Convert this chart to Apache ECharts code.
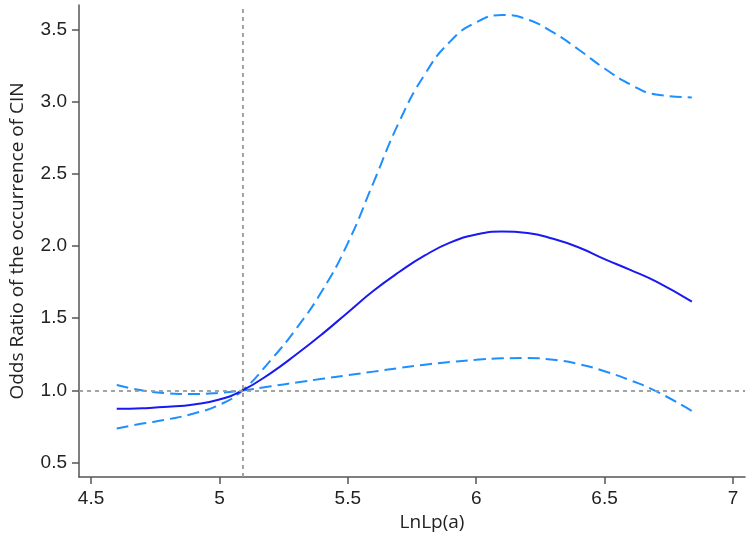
<!DOCTYPE html>
<html>
<head>
    <meta charset="UTF-8">
    <title>Odds Ratio of CIN</title>
    <script type="text/javascript" src="https://cdn.jsdelivr.net/npm/echarts@6/dist/echarts.min.js"></script>
    <style type="text/css">
        html, body { margin: 0; padding: 0; background: #fff; }
        #chart { width: 751px; height: 540px; }
    </style>
</head>
<body>
<div id="chart"></div>
<script type="text/javascript">
    // LnLp(a) grid and read-off curve values
    var xs    = [4.6, 4.7, 4.8, 4.9, 5.0, 5.09, 5.2, 5.3, 5.4, 5.5, 5.6, 5.7, 5.8, 5.9, 6.0, 6.1, 6.2, 6.3, 6.4, 6.5, 6.6, 6.7, 6.84];
    var fit   = [0.872, 0.877, 0.886, 0.903, 0.937, 1.0, 1.12, 1.25, 1.39, 1.54, 1.69, 1.82, 1.935, 2.025, 2.08, 2.10, 2.09, 2.05, 1.99, 1.91, 1.835, 1.755, 1.615];
    var upper = [0.736, 0.77, 0.80, 0.84, 0.90, 1.0, 1.21, 1.43, 1.69, 2.02, 2.44, 2.86, 3.19, 3.42, 3.55, 3.60, 3.57, 3.48, 3.36, 3.23, 3.12, 3.05, 3.03];
    var lower = [1.037, 1.00, 0.98, 0.975, 0.983, 1.0, 1.028, 1.055, 1.08, 1.105, 1.13, 1.155, 1.178, 1.197, 1.212, 1.222, 1.224, 1.212, 1.182, 1.133, 1.07, 0.995, 0.858];
    var xTicks = [4.5, 5, 5.5, 6, 6.5, 7];
    var yTicks = [0.5, 1.0, 1.5, 2.0, 2.5, 3.0, 3.5];
    var refX = 5.09;
    var refY = 1.0;

    function pairs(ys) {
        var out = [];
        for (var i = 0; i < xs.length; i++) {
            out.push([xs[i], ys[i]]);
        }
        return out;
    }

    var chart = echarts.init(document.getElementById('chart'));
    var axisColor = '#555';
    var ciStyle = { color: '#1e8fff', width: 2, type: [12, 6] };

    chart.setOption({
        animation: false,
        grid: { left: 76, right: 6, top: 5, bottom: 63 },
        xAxis: {
            type: 'value',
            min: 4.453,
            max: 7.047,
            name: 'LnLp(a)',
            nameLocation: 'middle',
            nameGap: 32,
            nameTextStyle: { fontFamily: 'Open Sans', fontSize: 19, color: '#222', padding: [0, 0, 0, 40] },
            splitLine: { show: false },
            axisLine: { lineStyle: { color: axisColor, width: 1.5 } },
            axisTick: { length: 7, customValues: xTicks, lineStyle: { color: axisColor, width: 1.5 } },
            axisLabel: {
                customValues: xTicks,
                margin: 12,
                fontFamily: 'Liberation Sans',
                fontSize: 19,
                color: '#222'
            }
        },
        yAxis: {
            type: 'value',
            min: 0.4,
            max: 3.67,
            name: 'Odds Ratio of the occurrence of CIN',
            nameLocation: 'middle',
            nameGap: 52,
            nameTextStyle: { fontFamily: 'Open Sans', fontSize: 19, color: '#222' },
            splitLine: { show: false },
            axisLine: { show: true, lineStyle: { color: axisColor, width: 1.5 } },
            axisTick: { show: true, length: 7, customValues: yTicks, lineStyle: { color: axisColor, width: 1.5 } },
            axisLabel: {
                customValues: yTicks,
                margin: 12,
                fontFamily: 'Liberation Sans',
                fontSize: 19,
                color: '#222',
                formatter: function (v) { return v.toFixed(1); }
            }
        },
        series: [
            {
                name: 'upper',
                type: 'line',
                data: pairs(upper),
                smooth: true,
                showSymbol: false,
                lineStyle: ciStyle,
                silent: true
            },
            {
                name: 'lower',
                type: 'line',
                data: pairs(lower),
                smooth: true,
                showSymbol: false,
                lineStyle: ciStyle,
                silent: true
            },
            {
                name: 'OR',
                type: 'line',
                data: pairs(fit),
                smooth: true,
                showSymbol: false,
                lineStyle: { color: '#1a1af0', width: 2 },
                silent: true,
                z: 3,
                markLine: {
                    silent: true,
                    symbol: 'none',
                    label: { show: false },
                    lineStyle: { color: '#999', width: 1.8, type: [4, 4] },
                    data: [{ xAxis: refX }, { yAxis: refY }]
                }
            }
        ]
    });
</script>
</body>
</html>
